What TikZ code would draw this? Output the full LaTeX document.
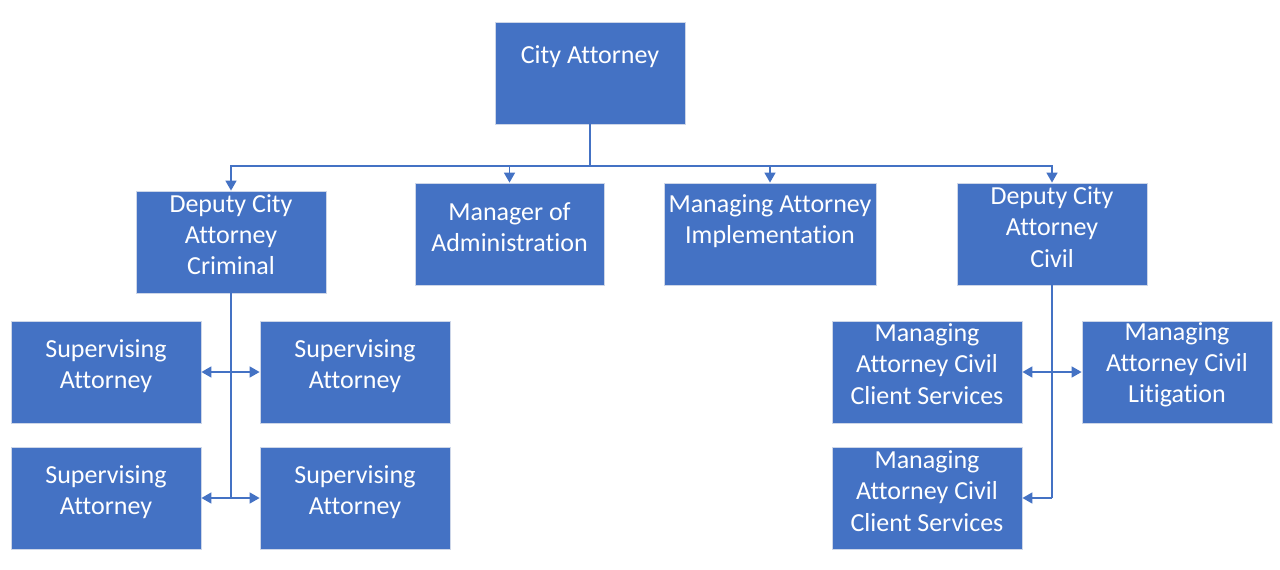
\documentclass[tikz,border=0pt]{standalone}
\usepackage{fontspec}
\setmainfont{Carlito}[Ligatures=CommonOff]
\usetikzlibrary{arrows.meta}
\definecolor{boxblue}{HTML}{4472C4}
\definecolor{boxedge}{RGB}{205,214,232}
\begin{document}
\begin{tikzpicture}[x=1pt,y=-1pt,
  box/.style={draw=boxedge,line width=0.8pt,fill=boxblue,minimum width=190pt,minimum height=102pt,inner sep=0pt},
  txt/.style={text=white,align=center,font=\fontsize{26}{31.2}\selectfont,inner sep=0pt},
  conn/.style={draw=boxblue,line width=1.6pt},
  tip/.style={-{Triangle[length=10pt,width=11pt]}},
  tips/.style={{Triangle[length=10pt,width=11pt]}-{Triangle[length=10pt,width=11pt]}}]
\useasboundingbox (0,0) rectangle (1280,570);
\node[box,label={[txt,yshift=16pt]center:City Attorney}] (ca) at (590,73) {};
\node[box,label={[txt,yshift=7.5pt]center:Deputy City\\Attorney\\Criminal}] (dc) at (231,242) {};
\node[box,minimum width=189pt,label={[txt,yshift=7pt]center:Manager of\\Administration}] (ma) at (509.5,234) {};
\node[box,minimum width=212pt,label={[txt,yshift=12.5pt]center:Managing Attorney\\Implementation}] (mi) at (770,234) {};
\node[box,label={[txt,yshift=7pt]center:Deputy City\\Attorney\\Civil}] (dv) at (1052,234) {};
\node[box,label={[txt,yshift=5.5pt]center:Supervising\\Attorney}] (s1) at (106,372) {};
\node[box,label={[txt,yshift=5.5pt]center:Supervising\\Attorney}] (s2) at (355,372) {};
\node[box,label={[txt,yshift=5.5pt]center:Supervising\\Attorney}] (s3) at (106,498) {};
\node[box,label={[txt,yshift=5.5pt]center:Supervising\\Attorney}] (s4) at (355,498) {};
\node[box,label={[txt,yshift=8pt]center:Managing\\Attorney Civil\\Client Services}] (m1) at (927,372) {};
\node[box,label={[txt,yshift=7.5pt]center:Managing\\Attorney Civil\\Litigation}] (m2) at (1177,372) {};
\node[box,label={[txt,yshift=7pt]center:Managing\\Attorney Civil\\Client Services}] (m3) at (927,498) {};
\coordinate (bus) at (590,166);
\draw[conn] (ca.south) -- (bus);
\draw[conn,tip] (bus) -| (dc.north);
\draw[conn,tip] (bus) -| (ma.north);
\draw[conn,tip] (bus) -| (mi.north);
\draw[conn,tip] (bus) -| (dv.north);
\draw[conn] (dc.south) -- (dc.south |- s3.east);
\draw[conn,tips] (s1.east) -- (s2.west);
\draw[conn,tips] (s3.east) -- (s4.west);
\draw[conn] (dv.south) -- (dv.south |- m3.east);
\draw[conn,tips] (m1.east) -- (m2.west);
\draw[conn,tip] (dv.south |- m3.east) -- (m3.east);
\end{tikzpicture}
\end{document}
